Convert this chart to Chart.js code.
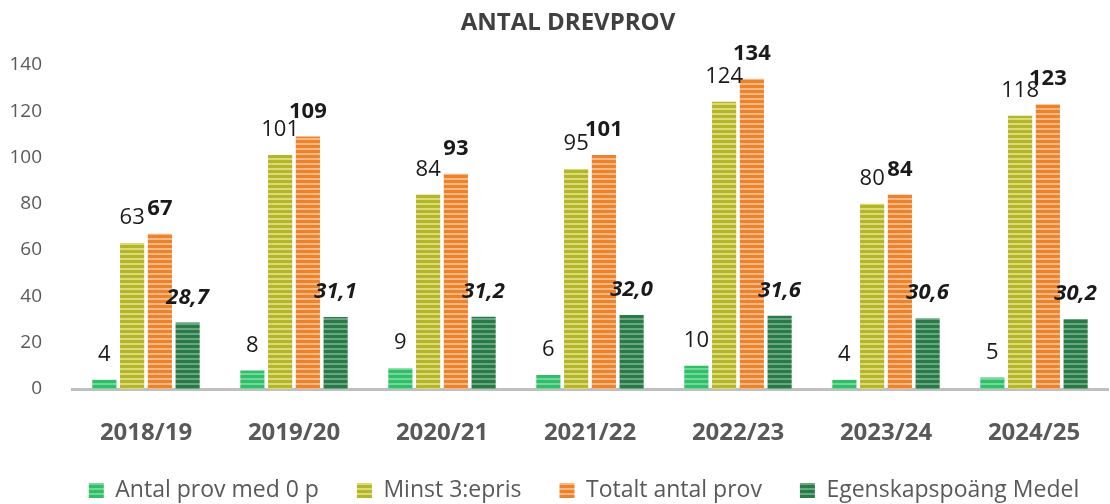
<!DOCTYPE html>
<html>
<head>
<meta charset="utf-8">
<script src="https://cdn.jsdelivr.net/npm/chart.js@4"></script>
<style>
  html, body { margin: 0; padding: 0; background: #fff; }
  #wrap { width: 1110px; height: 504px; }
</style>
</head>
<body>
<div id="wrap"><canvas id="chart" width="1110" height="504"></canvas></div>
<script>
const seasons = ["2018/19", "2019/20", "2020/21", "2021/22", "2022/23", "2023/24", "2024/25"];
const zeroPoints = [4, 8, 9, 6, 10, 4, 5];
const minst3 = [63, 101, 84, 95, 124, 80, 118];
const totalt = [67, 109, 93, 101, 134, 84, 123];
const medel = [28.7, 31.1, 31.2, 32.0, 31.6, 30.6, 30.2];
const yTicks = [0, 20, 40, 60, 80, 100, 120, 140];

// randig fyllning som i Excel
const stripes = function (base, light) {
    const c = document.createElement("canvas");
    c.width = 5; c.height = 5;
    const g = c.getContext("2d");
    g.fillStyle = base;
    g.fillRect(0, 0, 5, 5);
    g.fillStyle = light;
    g.fillRect(0, 3, 5, 2);
    return g.createPattern(c, "repeat");
};

const fmt = (v, i) => i === 3 ? v.toFixed(1).replace(".", ",") : String(v);
const labelFonts = [
    "normal 22px 'Open Sans'",
    "normal 22px 'Open Sans'",
    "bold 22px 'Open Sans'",
    "italic bold 22px 'Open Sans'"
];

const valueLabels = {
    id: "valueLabels",
    afterDatasetsDraw(chart) {
        const c = chart.ctx;
        c.save();
        c.textAlign = "center";
        c.textBaseline = "middle";
        c.fillStyle = "#1a1a1a";
        chart.data.datasets.forEach((ds, i) => {
            chart.getDatasetMeta(i).data.forEach((bar, j) => {
                c.font = labelFonts[i];
                c.fillText(fmt(ds.data[j], i), bar.x, bar.y - 25);
            });
        });
        c.restore();
    }
};

// flytta titel och förklaring lite åt höger som i originalet
const nudge = {
    id: "nudge",
    afterLayout(chart) {
        chart.legend.left += 30;
        chart.legend.right += 30;
        chart.titleBlock.left += 14;
        chart.titleBlock.right += 14;
    }
};

const ctx = document.getElementById("chart");
const chart = new Chart(ctx, {
    type: "bar",
    data: {
        labels: seasons,
        datasets: [
            { label: "Antal prov med 0 p", data: zeroPoints, backgroundColor: stripes("#2fbf66", "#74d69a") },
            { label: "Minst 3:epris", data: minst3, backgroundColor: stripes("#b4b627", "#dadb7a") },
            { label: "Totalt antal prov", data: totalt, backgroundColor: stripes("#ec822a", "#f6b985") },
            { label: "Egenskapspoäng Medel", data: medel, backgroundColor: stripes("#2a7a48", "#68a781") }
        ]
    },
    options: {
        responsive: false,
        animation: false,
        layout: { padding: { left: 0, right: 2, top: 0, bottom: 0 } },
        datasets: { bar: { categoryPercentage: 0.75, barPercentage: 0.87 } },
        plugins: {
            title: {
                display: true,
                text: "ANTAL DREVPROV",
                color: "#404040",
                font: { family: "'Open Sans'", size: 24, weight: "bold" },
                padding: { top: 9, bottom: 27 }
            },
            legend: {
                position: "bottom",
                maxHeight: 63,
                labels: {
                    color: "#595959",
                    font: { family: "'Open Sans'", size: 23, lineHeight: 1 },
                    boxWidth: 15,
                    boxHeight: 15,
                    padding: 38
                }
            },
            tooltip: { enabled: false }
        },
        scales: {
            x: {
                afterFit: (axis) => { axis.height = 52; },
                grid: { display: false },
                border: { color: "#bfbfbf", width: 3 },
                ticks: {
                    color: "#595959",
                    padding: 22,
                    font: { family: "'Open Sans'", size: 24, weight: "bold" }
                }
            },
            y: {
                min: 0,
                max: 140,
                afterBuildTicks: (axis) => { axis.ticks = yTicks.map(v => ({ value: v })); },
                afterFit: (axis) => { axis.width = 72; },
                grid: { display: false },
                border: { display: false },
                ticks: {
                    color: "#595959",
                    padding: 22,
                    font: { family: "'Open Sans'", size: 19 }
                }
            }
        }
    },
    plugins: [valueLabels, nudge]
});
</script>
</body>
</html>
